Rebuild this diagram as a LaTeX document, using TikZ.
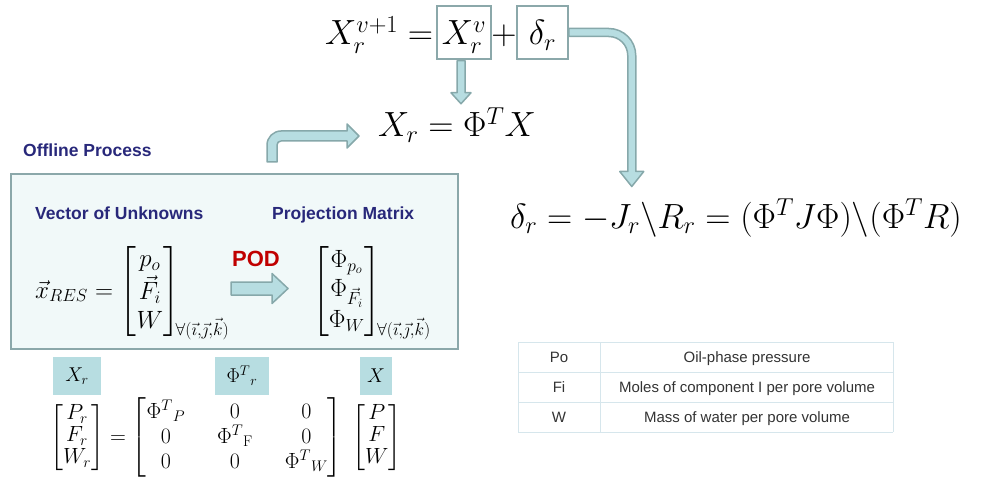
\RequirePackage{fix-cm}
\documentclass[tikz,border=0pt]{standalone}
\usepackage{amsmath,amssymb}
\usepackage{fontspec}
\setsansfont{Liberation Sans}
\usepackage{tikz}
\usetikzlibrary{calc,positioning}
\definecolor{romnavy}{RGB}{40,40,122}
\definecolor{romred}{RGB}{192,0,0}
\definecolor{arrowfill}{RGB}{183,221,225}
\definecolor{arrowedge}{RGB}{134,168,170}
\definecolor{boxfill}{RGB}{241,249,249}
\definecolor{boxedge}{RGB}{139,168,170}
\definecolor{tableline}{RGB}{214,230,236}
\definecolor{tabletext}{RGB}{51,51,51}
\newcommand{\bigmath}{\fontsize{35}{42}\selectfont}
\newcommand{\forallijk}{\!\!\raisebox{-37pt}{$\scriptstyle\forall(\vec{\imath},\vec{\jmath},\vec{k})$}}

\begin{document}
\begin{tikzpicture}[x=1pt,y=-1pt,
    bigeq/.style={inner sep=0pt,font=\bigmath},
    mideq/.style={inner sep=0pt,font=\fontsize{25}{29}\selectfont},
    smalleq/.style={inner sep=0pt,font=\fontsize{22}{22}\selectfont},
    titletext/.style={inner sep=0pt,font=\sffamily\bfseries\fontsize{17.5}{21}\selectfont,text=romnavy},
    podtext/.style={inner sep=0pt,font=\sffamily\bfseries\fontsize{22}{26}\selectfont,text=romred},
    eqbox/.style={draw=boxedge,line width=1.5pt,fill=white,font=\bigmath,minimum width=54pt,
        text height=36pt,text depth=11pt,inner xsep=0pt,inner ysep=3pt,anchor=base},
    blockarrow/.style={fill=arrowfill,draw=arrowedge,line width=1.5pt,line join=round},
    labelbox/.style={fill=arrowfill,minimum height=38pt,inner sep=0pt,font=\fontsize{20}{24}\selectfont},
    celltext/.style={inner sep=0pt,anchor=base,font=\sffamily\fontsize{15}{18}\selectfont,text=tabletext}]
    \useasboundingbox (0,0) rectangle (984,489);

    % Update equation
    \node[eqbox] (xv) at (464,45) {$X_r^v$};
    \node[eqbox,minimum width=51pt] (dr) at (542.5,45) {$\delta_r$};
    \node[bigeq,anchor=base east] (lhs) at ([xshift=-3pt]xv.base west) {$X_r^{v+1} =$};
    \node[bigeq,anchor=base] (plus) at ($(xv.base east)!0.5!(dr.base west)$) {$+$};

    % Reduced state and increment
    \node[bigeq,anchor=base west] (xreq) at (378,137) {$X_r = \Phi^T X$};
    \node[bigeq,anchor=base west] (deltaeq) at (510,228)
        {$\delta_r = -J_r\backslash R_r = (\Phi^T J\Phi)\backslash(\Phi^T R)$};

    % Offline process box
    \node[titletext,anchor=base west] (offtitle) at (23,157) {Offline Process};
    \node[draw=boxedge,fill=boxfill,line width=2pt,minimum width=447pt,minimum height=175pt,
        inner sep=0pt] (offline) at (234.5,261.5) {};
    \node[titletext,anchor=base west] (vectitle) at (35,219) {Vector of Unknowns};
    \node[titletext,anchor=base west] (projtitle) at (272,219) {Projection Matrix};
    \node[podtext,anchor=base west] (pod) at (232,266) {POD};
    \node[mideq,anchor=base west] (xres) at (35,298)
        {$\vec{x}_{RES} = \begin{bmatrix} p_o\\ \vec{F}_i\\ W\end{bmatrix}\forallijk$};
    \node[mideq,anchor=base west] (phimat) at (312,298)
        {$\begin{bmatrix}\Phi_{p_o}\\ \Phi_{\vec{F}_i}\\ \Phi_W\end{bmatrix}\forallijk$};

    % Block arrows
    \coordinate (podtail) at (231,288.5);
    \filldraw[blockarrow] (podtail) ++(0,-6.5) -- ++(41,0) -- ++(0,-8.5) -- ++(16,15)
        -- ++(-16,15) -- ++(0,-8.5) -- ++(-41,0) -- cycle;
    \coordinate (dn) at ([xshift=-3pt]xv.south);
    \filldraw[blockarrow] (dn) ++(-4,1) -- ++(8,0) -- ++(0,32) -- ++(6,0) -- ++(-10,11)
        -- ++(-10,-11) -- ++(6,0) -- cycle;
    \begin{scope}[shift={(dr.east)}]
        \filldraw[blockarrow] (0,-4) -- (40,-4) .. controls (54.9,-4) and (67,8.1) .. (67,23)
            -- (67,139) -- (75,139) -- (63,154) -- (51,139) -- (59,139) -- (59,23)
            .. controls (59,12.5) and (50.5,4) .. (40,4) -- (0,4) -- cycle;
    \end{scope}
    \coordinate (upstart) at ([xshift=262pt,yshift=11pt]offline.north west);
    \begin{scope}[shift={(upstart)}]
        \filldraw[blockarrow] (-5,0) -- (-5,-17) .. controls (-5,-24.7) and (1.3,-31) .. (9,-31)
            -- (75,-31) -- (75,-38) -- (87,-26) -- (75,-14) -- (75,-21) -- (9,-21)
            .. controls (6.8,-21) and (5,-19.2) .. (5,-17) -- (5,0) -- cycle;
    \end{scope}

    % Reduced system
    \node[labelbox,minimum width=48pt] (lblxr) at (77,376) {$X_r$};
    \node[labelbox,minimum width=54pt] (lblphi) at (242,376) {$\Phi^T{}_r$};
    \node[labelbox,minimum width=32pt] (lblx) at (376,376) {$X$};
    \node[smalleq,anchor=base west] (redeq) at (50,443)
        {$\begin{bmatrix} P_r\\ F_r\\ W_r\end{bmatrix} =
        {\setlength\arraycolsep{16pt}\begin{bmatrix}\Phi^T{}_P & 0 & 0\\ 0 & \Phi^T{}_{\mathrm{F}} & 0\\
        0 & 0 & \Phi^T{}_W\end{bmatrix}}\;\begin{bmatrix} P\\ F\\ W\end{bmatrix}$};

    % Variable table
    \foreach \y in {342,372,402,432}
        \draw[tableline,line width=1pt] (518,\y) -- (893,\y);
    \foreach \x in {518,600,893}
        \draw[tableline,line width=1pt] (\x,342) -- (\x,432);
    \foreach \sym/\desc [count=\i] in {Po/Oil-phase pressure,Fi/Moles of component I per pore volume,W/Mass of water per pore volume}{
        \node[celltext] (sym\i) at (559,{332+30*\i}) {\sym};
        \node[celltext] (desc\i) at (747,{332+30*\i}) {\desc};
    }
\end{tikzpicture}
\end{document}
